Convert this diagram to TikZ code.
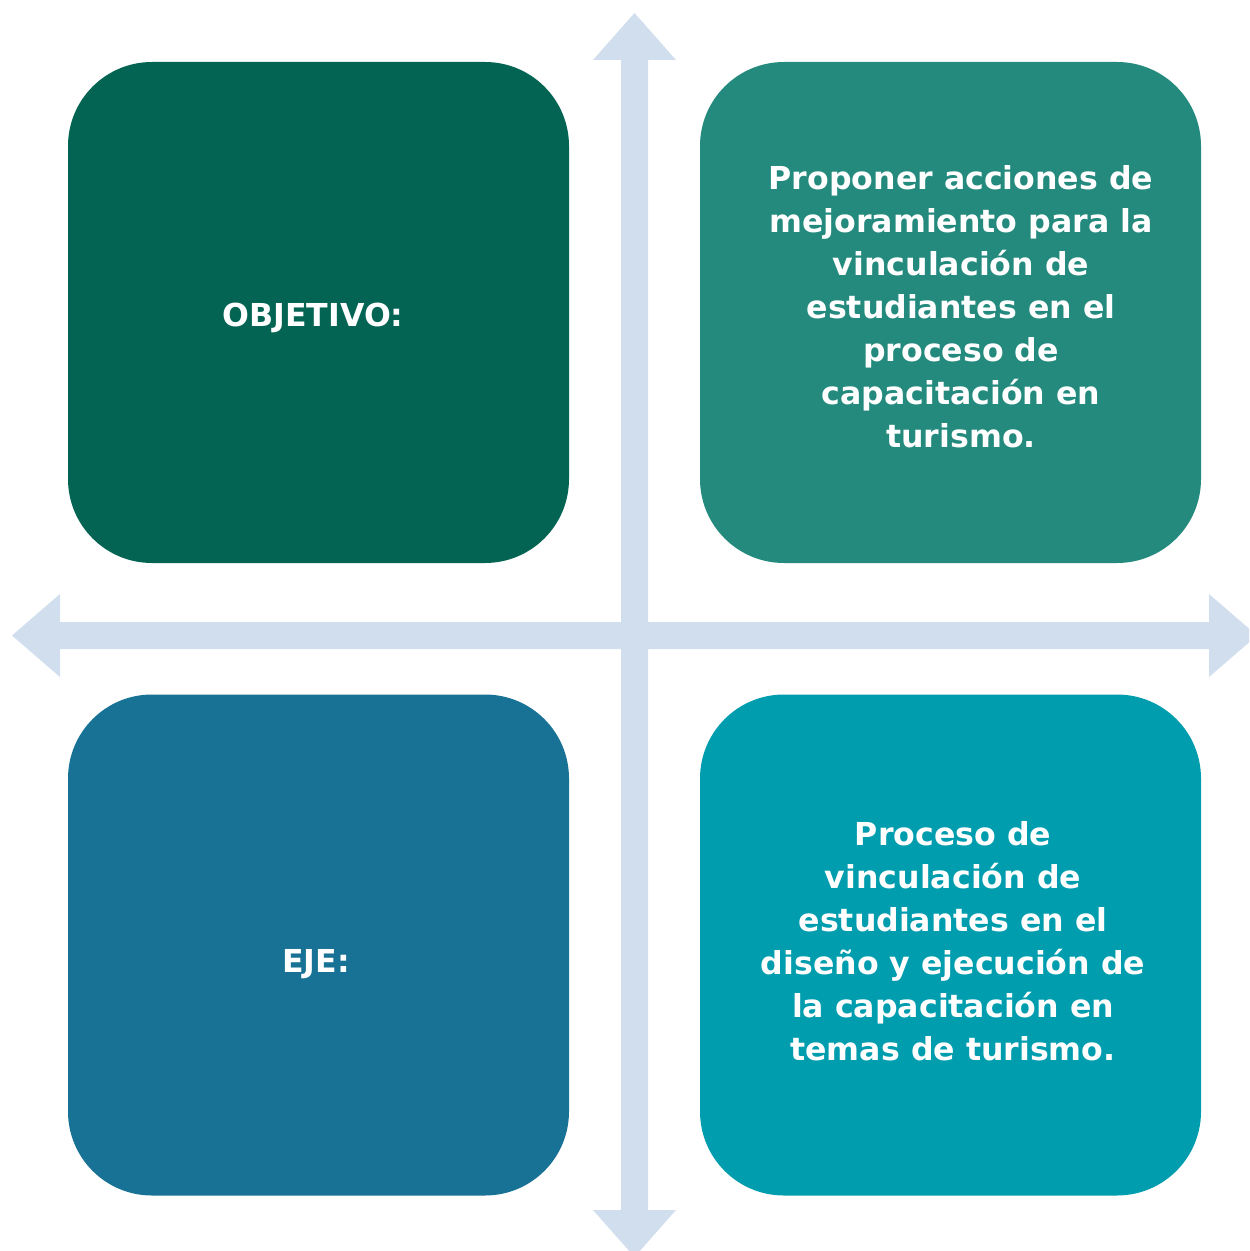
\documentclass[tikz,border=0pt]{standalone}
\usepackage{fontspec}
\setmainfont{DejaVu Sans}
\begin{document}
\begin{tikzpicture}[x=0.5pt,y=-0.5pt,
  quad/.style={minimum width=250.5pt,minimum height=250.5pt,rounded corners=42pt,inner sep=0pt,draw=none},
  lbl/.style={text=white,font=\bfseries\fontsize{15.8}{21.5}\selectfont,align=center,inner sep=0pt}]
\definecolor{cA}{HTML}{036453}
\definecolor{cB}{HTML}{248A7D}
\definecolor{cC}{HTML}{187295}
\definecolor{cD}{HTML}{009DAF}
\definecolor{crossc}{HTML}{D0DEEE}
\useasboundingbox (0,0) rectangle (1249,1251);
\clip (0,0) rectangle (1249,1251);
% cross with four arrowheads
\fill[crossc] (621,60) -- (593,60) -- (634.5,13) -- (676,60) -- (648,60)
  -- (648,622) -- (1209,622) -- (1209,594) -- (1257,635.5) -- (1209,677) -- (1209,649)
  -- (648,649) -- (648,1210) -- (676,1210) -- (634.5,1257) -- (593,1210) -- (621,1210)
  -- (621,649) -- (60,649) -- (60,677) -- (12,635.5) -- (60,594) -- (60,622)
  -- (621,622) -- cycle;
\node[quad,fill=cA] (q1) at (318.5,312.5) {};
\node[quad,fill=cB] (q2) at (950.5,312.5) {};
\node[quad,fill=cC] (q3) at (318.5,945) {};
\node[quad,fill=cD] (q4) at (950.5,945) {};
\node[lbl] (t1) at (313,318) {OBJETIVO:};
\node[lbl] (t2) at (961,307) {Proponer acciones de\\mejoramiento para la\\vinculación de\\estudiantes en el\\proceso de\\capacitación en\\turismo.};
\node[lbl] (t3) at (316,964) {EJE:};
\node[lbl] (t4) at (953,941) {Proceso de\\vinculación de\\estudiantes en el\\diseño y ejecución de\\la capacitación en\\temas de turismo.};
\end{tikzpicture}
\end{document}
